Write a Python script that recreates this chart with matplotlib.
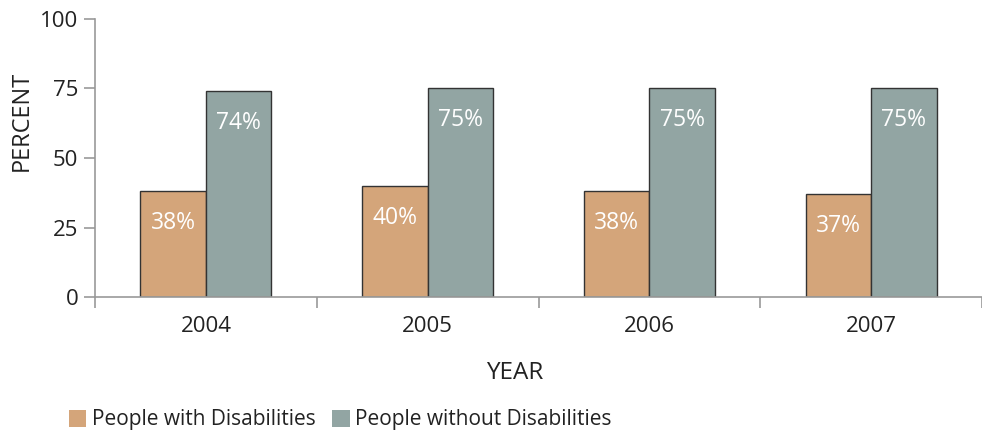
import matplotlib
matplotlib.use("Agg")
import matplotlib.pyplot as plt
import numpy as np
from matplotlib.patches import Patch

years = ["2004", "2005", "2006", "2007"]
with_disabilities = [38, 40, 38, 37]
without_disabilities = [74, 75, 75, 75]
series_names = ["People with Disabilities", "People without Disabilities"]
y_ticks = [0, 25, 50, 75, 100]

orange = "#D4A57A"
grey = "#92A5A3"
axis_grey = "#999999"

plt.rcParams["font.family"] = ["Open Sans", "DejaVu Sans"]

fig = plt.figure(figsize=(9.82, 4.37), dpi=100)
ax = fig.add_axes([95 / 982, 140 / 437, 887 / 982, 278 / 437])

x = np.arange(len(years))
width = 0.295
bars_a = ax.bar(x - width / 2, with_disabilities, width, color=orange,
                edgecolor="#333333", linewidth=1)
bars_b = ax.bar(x + width / 2, without_disabilities, width, color=grey,
                edgecolor="#333333", linewidth=1)

for bars, vals in [(bars_a, with_disabilities), (bars_b, without_disabilities)]:
    for b, v in zip(bars, vals):
        ax.annotate(f"{v}%", (b.get_x() + b.get_width() / 2, v),
                    xytext=(0, -23), textcoords="offset points",
                    ha="center", va="center", color="white", fontsize=16.5)

ax.set_xlim(-0.5, 3.40)
ax.set_ylim(0, 100)
ax.set_yticks(y_ticks)
ax.set_yticklabels([str(t) for t in y_ticks], fontsize=16, color="#222222")

# category separators as ticks, year names as minor labels
ax.set_xticks(np.arange(-0.5, 4, 1))
ax.set_xticklabels([])
ax.set_xticks(x, minor=True)
ax.set_xticklabels(years, minor=True, fontsize=16, color="#222222")
ax.tick_params(axis="x", which="major", length=8, width=1.2, color=axis_grey)
ax.tick_params(axis="x", which="minor", length=0, pad=14)
ax.tick_params(axis="y", length=8, width=1.2, color=axis_grey, pad=4)

for side in ["top", "right"]:
    ax.spines[side].set_visible(False)
for side in ["left", "bottom"]:
    ax.spines[side].set_color(axis_grey)
    ax.spines[side].set_linewidth(1.2)

fig.text(22 / 982, 1 - 121 / 437, "PERCENT", rotation=90, ha="center",
         va="center", fontsize=17, color="#222222")
fig.text(515 / 982, 1 - 373 / 437, "YEAR", ha="center", va="center",
         fontsize=17.5, color="#222222")

handles = [Patch(facecolor=orange, edgecolor="none"),
           Patch(facecolor=grey, edgecolor="none")]
fig.legend(handles, series_names, loc="center left",
           bbox_to_anchor=(50 / 982, 1 - 420 / 437), ncol=2, frameon=False,
           fontsize=15, handlelength=0.85, handleheight=0.85,
           handletextpad=0.25, columnspacing=0.8, labelcolor="#222222")

fig.savefig("out.png", dpi=100)
